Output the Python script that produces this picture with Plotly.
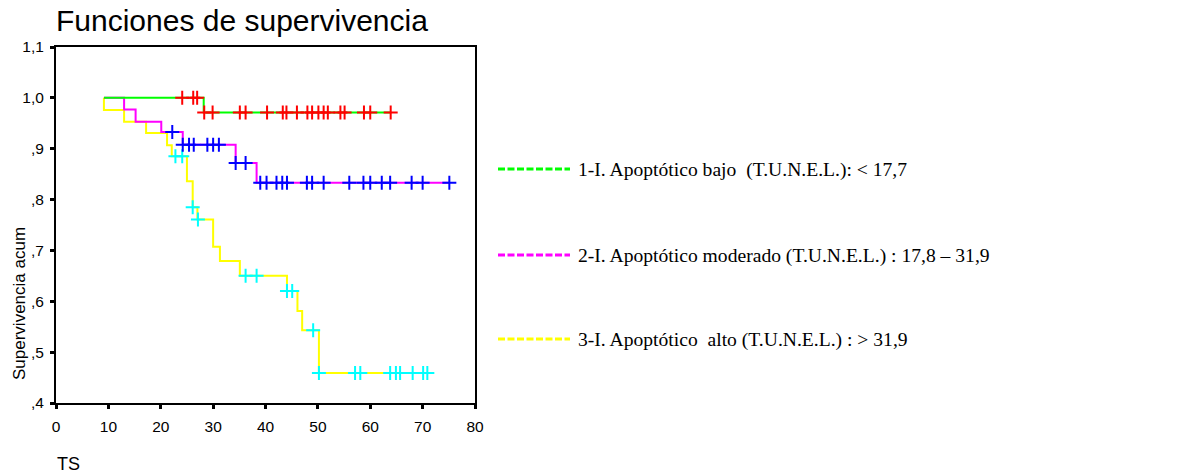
import plotly.graph_objects as go

# ---- Kaplan-Meier data (time in months, cumulative survival) ----
labels = [
    "1-I. Apoptótico bajo\u00a0\u00a0(T.U.N.E.L.): < 17,7",
    "2-I. Apoptótico moderado (T.U.N.E.L.) : 17,8 – 31,9",
    "3-I. Apoptótico\u00a0\u00a0alto (T.U.N.E.L.) : > 31,9",
]

start_times = [9.15, 9.15, 9.15]

bajo_event_t = [28.2]
bajo_event_s = [0.971]
bajo_censor_t = [24.1, 26.2, 26.95, 28.3, 29.9, 35.1, 36.2, 40.3, 43.3, 44.0, 46.0,
                 48.0, 48.9, 50.1, 51.1, 51.9, 54.3, 55.1, 58.8, 60.0, 63.9]

moder_event_t = [13.0, 15.2, 20.1, 24.2, 34.3, 38.3]
moder_event_s = [0.977, 0.953, 0.933, 0.908, 0.872, 0.833]
moder_censor_t = [22.2, 24.2, 25.4, 26.3, 28.9, 30.0, 31.1, 34.3, 36.2, 39.0, 40.2,
                  42.1, 43.2, 44.1, 47.9, 48.9, 51.1, 56.0, 58.7, 60.0, 62.2, 63.8,
                  67.9, 70.0, 75.1]

alto_event_t = [9.15, 13.0, 17.2, 21.2, 22.1, 25.0, 26.1, 27.0, 30.0, 31.3, 35.1,
                44.1, 46.1, 47.0, 50.2]
alto_event_s = [0.976, 0.953, 0.931, 0.907, 0.885, 0.836, 0.785, 0.761, 0.707, 0.679,
                0.650, 0.620, 0.581, 0.543, 0.459]
alto_censor_t = [22.8, 24.1, 26.1, 27.1, 36.2, 38.3, 44.1, 45.1, 49.1, 50.2, 57.1,
                 58.1, 63.8, 64.9, 65.7, 68.1, 70.1, 70.9]

x_ticks = [0, 10, 20, 30, 40, 50, 60, 70, 80]
y_tick_vals = [0.4, 0.5, 0.6, 0.7, 0.8, 0.9, 1.0, 1.1]
y_tick_text = [",4", ",5", ",6", ",7", ",8", ",9", "1,0", "1,1"]

line_colors = ["#00FF00", "#FF00FF", "#FFFF00"]
censor_colors = ["#FF0000", "#0000FF", "#00FFFF"]


def surv_at(t, ev_t, ev_s):
    s = 1.0
    for et, es in zip(ev_t, ev_s):
        if et <= t:
            s = es
    return s


groups = [
    (start_times[0], bajo_event_t, bajo_event_s, bajo_censor_t),
    (start_times[1], moder_event_t, moder_event_s, moder_censor_t),
    (start_times[2], alto_event_t, alto_event_s, alto_censor_t),
]

fig = go.Figure()

# step curves: yellow underneath, then magenta, green on top
for i in [2, 1, 0]:
    t0, ev_t, ev_s, cen_t = groups[i]
    t_end = max(cen_t + ev_t)
    xs = [t0] + ev_t + [t_end]
    ys = [1.0] + ev_s + [ev_s[-1]]
    fig.add_trace(go.Scatter(
        x=xs, y=ys, mode="lines", line=dict(color=line_colors[i], width=2, shape="hv"),
        showlegend=False, hoverinfo="skip"))

# censoring marks
for i in [2, 1, 0]:
    t0, ev_t, ev_s, cen_t = groups[i]
    fig.add_trace(go.Scatter(
        x=cen_t, y=[surv_at(t, ev_t, ev_s) for t in cen_t], mode="markers",
        marker=dict(symbol="cross-thin", size=10, line=dict(color=censor_colors[i], width=2)),
        showlegend=False, hoverinfo="skip"))

# plot area in pixels: x 56..475, y 47..403
L, R, T, B = 56, 475, 47, 403
W, H = 1194, 476


def px_x(px):
    return (px - L) / (R - L)


def px_y(py):
    return (B - py) / (B - T)


annotations = [
    dict(text="Funciones de supervivencia", x=px_x(54), y=px_y(21), xref="paper", yref="paper",
         xanchor="left", yanchor="middle", showarrow=False,
         font=dict(family="Arial, Liberation Sans", size=30, color="black")),
    dict(text="Supervivencia acum", x=px_x(19), y=px_y(304), xref="paper", yref="paper",
         xanchor="center", yanchor="middle", textangle=-90, showarrow=False,
         font=dict(family="Arial, Liberation Sans", size=17, color="black")),
    dict(text="TS", x=px_x(55), y=px_y(464), xref="paper", yref="paper",
         xanchor="left", yanchor="middle", showarrow=False,
         font=dict(family="Arial, Liberation Sans", size=18, color="black")),
]

shapes = []
legend_y = [169, 255, 339]
for i, lab in enumerate(labels):
    shapes.append(dict(type="line", xref="paper", yref="paper",
                       x0=px_x(498), x1=px_x(570), y0=px_y(legend_y[i]), y1=px_y(legend_y[i]),
                       line=dict(color=line_colors[i], width=3, dash="7px,2.5px")))
    annotations.append(dict(text=lab, x=px_x(576), y=px_y(legend_y[i] + 1), xref="paper", yref="paper",
                            xanchor="left", yanchor="middle", showarrow=False,
                            font=dict(family="Liberation Serif, Times New Roman", size=19.6, color="black")))

fig.update_layout(
    width=W, height=H,
    margin=dict(l=L, r=W - R, t=T, b=H - B, pad=0),
    paper_bgcolor="white", plot_bgcolor="white",
    annotations=annotations, shapes=shapes,
    showlegend=False,
)

fig.update_xaxes(
    range=[0, 80], tickvals=x_ticks, ticktext=[str(v) for v in x_ticks],
    showgrid=False, zeroline=False, showline=True, mirror=True,
    linecolor="black", linewidth=2, ticks="outside", ticklen=4, tickwidth=3, tickcolor="black",
    ticklabelstandoff=4,
    tickfont=dict(family="Arial, Liberation Sans", size=15.5, color="black"),
)
fig.update_yaxes(
    range=[0.4, 1.1], tickvals=y_tick_vals, ticktext=y_tick_text,
    showgrid=False, zeroline=False, showline=True, mirror=True,
    linecolor="black", linewidth=2, ticks="outside", ticklen=4, tickwidth=3, tickcolor="black",
    ticklabelstandoff=3,
    tickfont=dict(family="Arial, Liberation Sans", size=15.5, color="black"),
)

fig.write_html("out.html")
